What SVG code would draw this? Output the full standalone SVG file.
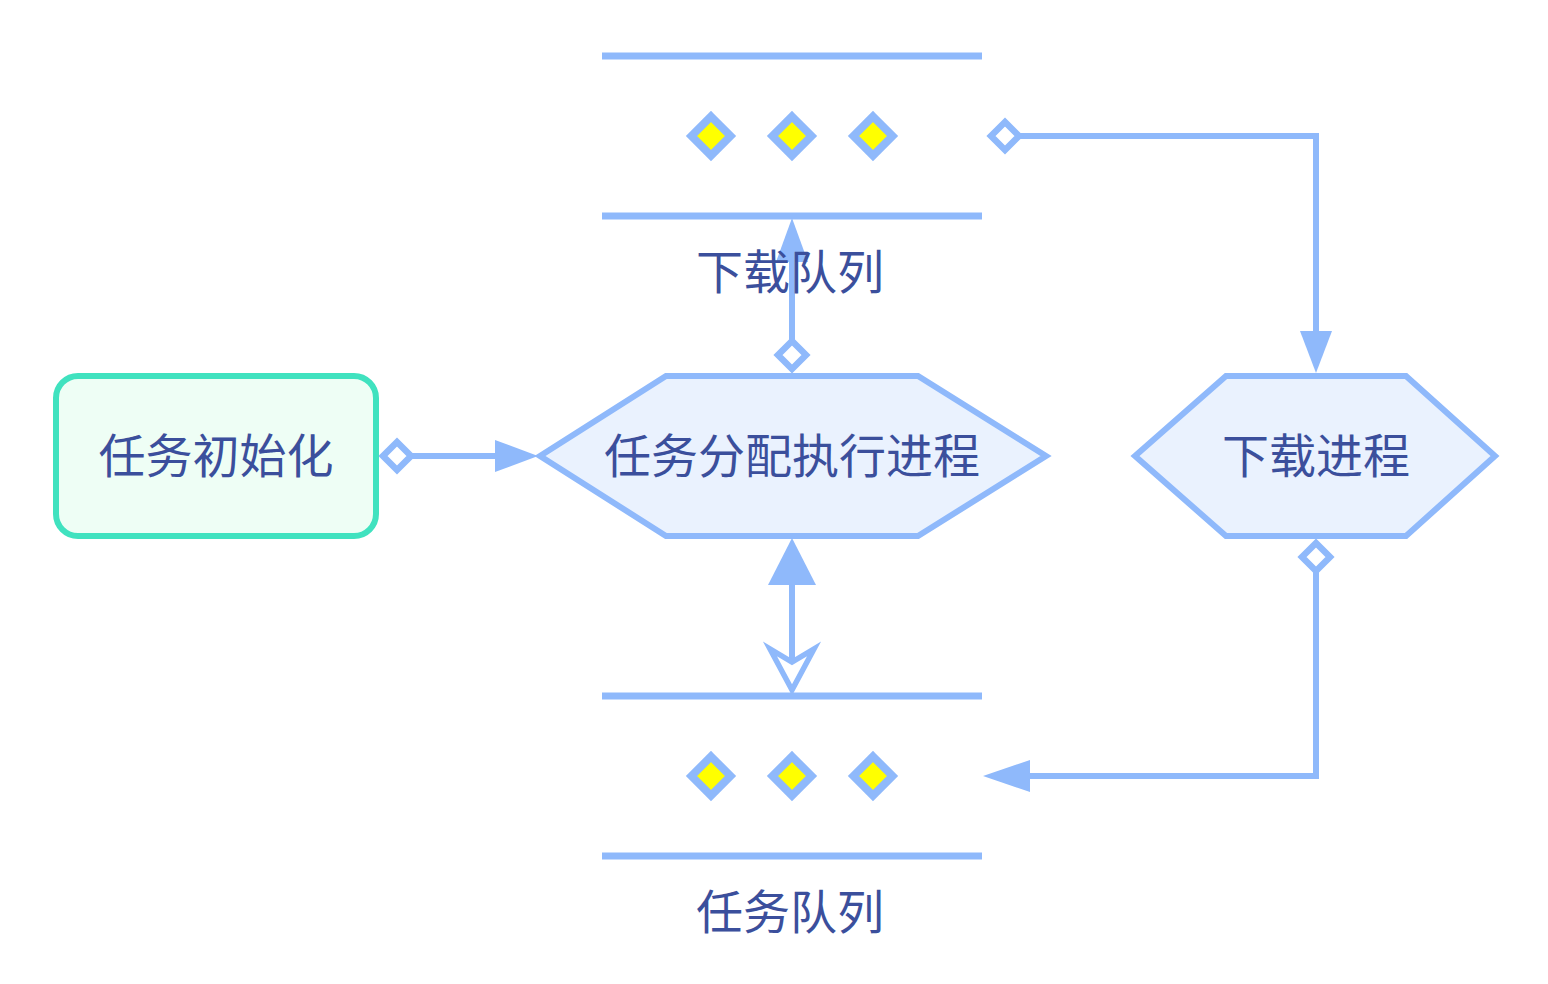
<svg xmlns="http://www.w3.org/2000/svg" width="1548" height="984" viewBox="0 0 1548 984">
<style>
.ln{stroke:#8FB9FB;stroke-width:6;fill:none}
.bar{stroke:#8FB9FB;stroke-width:7;fill:none}
.hex{fill:#EAF2FE;stroke:#8FB9FB;stroke-width:6}
.txt{font-family:"Noto Sans CJK SC","Noto Sans",sans-serif;font-size:47px;fill:#3B4F9C;text-anchor:middle}
.ydia{fill:#FFFF00;stroke:#8FB9FB;stroke-width:8}
.hdia{fill:#FFFFFF;stroke:#8FB9FB;stroke-width:6.5}
.ah{fill:#8FB9FB}
</style>
<defs>
<path id="yd" d="M0,-19.5 L19.5,0 L0,19.5 L-19.5,0 Z"/>
<path id="hd" d="M0,-14 L14,0 L0,14 L-14,0 Z"/>
</defs>
<g id="connectors">
  <line class="ln" x1="412" y1="456" x2="500" y2="456"/>
  <path class="ah" d="M495,440 L538,456 L495,472 Z"/>
  <use href="#hd" class="hdia" x="397" y="456"/>

  <line class="ln" x1="792" y1="340" x2="792" y2="255"/>
  <path class="ah" d="M776,262 L792,218 L808,262 Z"/>
  <use href="#hd" class="hdia" x="792" y="355"/>

  <line class="ln" x1="792" y1="578" x2="792" y2="664"/>
  <path class="ah" d="M768,585 L792,538 L816,585 Z"/>
  <path d="M770,649 L792,690 L814,649 L792,662 Z" fill="#FFFFFF" stroke="#8FB9FB" stroke-width="5.5" stroke-linejoin="miter"/>

  <polyline class="ln" points="1019,136 1316,136 1316,335"/>
  <path class="ah" d="M1300,331 L1316,373 L1332,331 Z"/>
  <use href="#hd" class="hdia" x="1005" y="136"/>

  <polyline class="ln" points="1316,572 1316,776 1024,776"/>
  <path class="ah" d="M1030,760 L983,776 L1030,792 Z"/>
  <use href="#hd" class="hdia" x="1316" y="557"/>
</g>
<g id="download-queue">
  <line class="bar" x1="602" y1="56" x2="982" y2="56"/>
  <line class="bar" x1="602" y1="216" x2="982" y2="216"/>
  <use href="#yd" class="ydia" x="711" y="136"/>
  <use href="#yd" class="ydia" x="792" y="136"/>
  <use href="#yd" class="ydia" x="873" y="136"/>
  <text class="txt" x="790" y="289">下载队列</text>
</g>
<g id="task-queue">
  <line class="bar" x1="602" y1="696" x2="982" y2="696"/>
  <line class="bar" x1="602" y1="856" x2="982" y2="856"/>
  <use href="#yd" class="ydia" x="711" y="776"/>
  <use href="#yd" class="ydia" x="792" y="776"/>
  <use href="#yd" class="ydia" x="873" y="776"/>
  <text class="txt" x="790" y="929">任务队列</text>
</g>
<g id="task-init">
  <rect x="56" y="376" width="320" height="160" rx="22" fill="#EEFEF5" stroke="#40E2BF" stroke-width="6"/>
  <text class="txt" x="216" y="473">任务初始化</text>
</g>
<g id="dispatch">
  <polygon class="hex" points="540,456 666,376 918,376 1046,456 918,536 666,536"/>
  <text class="txt" x="792" y="473">任务分配执行进程</text>
</g>
<g id="download-proc">
  <polygon class="hex" points="1135,456 1226,376 1406,376 1495,456 1406,536 1226,536"/>
  <text class="txt" x="1316" y="473">下载进程</text>
</g>
</svg>
